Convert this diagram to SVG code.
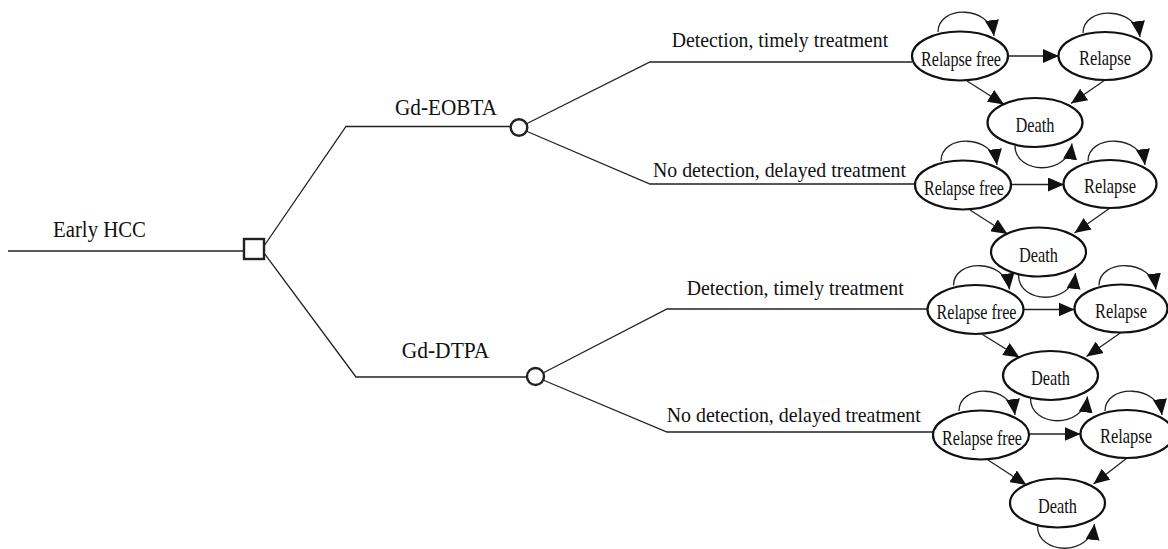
<svg xmlns="http://www.w3.org/2000/svg" width="1168" height="549" viewBox="0 0 1168 549">
<defs>
<style>
.ln{fill:none;stroke:#222;stroke-width:1.3}
.ar{fill:none;stroke:#222;stroke-width:1.3;marker-end:url(#ah)}
.st{fill:#fff;stroke:#111;stroke-width:2.2}
.dec{fill:#fff;stroke:#222;stroke-width:2.4}
.t{font-family:"Liberation Serif","Times New Roman",serif;fill:#111}
.lb{font-size:21.5px}
.lb22{font-size:23px}
.nt{font-size:21px;text-anchor:middle}
</style>
<marker id="ah" markerWidth="16" markerHeight="14" refX="16" refY="7" orient="auto" markerUnits="userSpaceOnUse">
<path d="M0,0 L16,7 L0,14 z" fill="#111"/>
</marker>
</defs>
<rect width="1168" height="549" fill="#fff"/>

<g id="connectors">
<path class="ln" d="M8,251 H244"/>
<path class="ln" d="M264,246 L346,126.5 H510.5"/>
<path class="ln" d="M264,253 L356,377 H527"/>
<path class="ln" d="M526,124 L650,62 H912"/>
<path class="ln" d="M526,131 L650,184 H915"/>
<path class="ln" d="M543,373 L667,309 H928"/>
<path class="ln" d="M543,380 L667,432 H933"/>

<path class="ar" d="M938,32 C938,5 990,5 994,36"/>
<path class="ar" d="M1083,33 C1083,6 1136,6 1140,37"/>
<path class="ar" d="M1008,56 L1059,56"/>
<path class="ar" d="M967,81 L1004,104.5"/>
<path class="ar" d="M1105,80 L1071,103.5"/>
<path class="ar" d="M1015,145.5 C1015,174.5 1068,176.5 1072,143.5"/>

<path class="ar" d="M941,161 C941,134 993,134 997,165"/>
<path class="ar" d="M1088,161 C1088,134 1141,134 1145,165"/>
<path class="ar" d="M1011,184.5 L1064,184.5"/>
<path class="ar" d="M970,210 L1007.5,234"/>
<path class="ar" d="M1110,208 L1074.5,233"/>
<path class="ar" d="M1018.5,275 C1018.5,304 1071.5,306 1075.5,273"/>

<path class="ar" d="M953.5,285.5 C953.5,258.5 1005.5,258.5 1009.5,289.5"/>
<path class="ar" d="M1099,285.5 C1099,258.5 1152,258.5 1156,289.5"/>
<path class="ar" d="M1023.5,309.5 L1074.5,309.5"/>
<path class="ar" d="M982.5,334.5 L1019.5,357.5"/>
<path class="ar" d="M1121,332.5 L1086.5,356.5"/>
<path class="ar" d="M1030.5,398.5 C1030.5,427.5 1083.5,429.5 1087.5,396.5"/>

<path class="ar" d="M959,411 C959,384 1011,384 1015,415"/>
<path class="ar" d="M1105,411 C1105,384 1158,384 1162,415"/>
<path class="ar" d="M1029,434 L1080.5,434"/>
<path class="ar" d="M988,460 L1026.5,485"/>
<path class="ar" d="M1127,458 L1093.5,484"/>
<path class="ar" d="M1037.5,526 C1037.5,555 1090.5,557 1094.5,524"/>
</g>

<g id="labels">
<text class="t lb22" x="53" y="236.7" textLength="93" lengthAdjust="spacingAndGlyphs">Early HCC</text>
<text class="t lb22" x="395" y="115" textLength="102" lengthAdjust="spacingAndGlyphs">Gd-EOBTA</text>
<text class="t lb22" x="401.7" y="358.3" textLength="87.6" lengthAdjust="spacingAndGlyphs">Gd-DTPA</text>
<text class="t lb" x="671.7" y="46.7" textLength="216.5" lengthAdjust="spacingAndGlyphs">Detection, timely treatment</text>
<text class="t lb" x="653" y="176.7" textLength="253" lengthAdjust="spacingAndGlyphs">No detection, delayed treatment</text>
<text class="t lb" x="686.7" y="295" textLength="217" lengthAdjust="spacingAndGlyphs">Detection, timely treatment</text>
<text class="t lb" x="666.7" y="421.7" textLength="254" lengthAdjust="spacingAndGlyphs">No detection, delayed treatment</text>
</g>

<g id="decision"><rect class="dec" x="244" y="239" width="20" height="20"/></g>
<g id="chance-eobta"><circle class="dec" cx="519" cy="127.5" r="8.3"/></g>
<g id="chance-dtpa"><circle class="dec" cx="535.5" cy="376.5" r="8.5"/></g>

<g id="c1-relapse-free"><ellipse class="st" cx="960" cy="56" rx="48" ry="24.5"/><text class="t nt" x="961" y="65.5" textLength="80" lengthAdjust="spacingAndGlyphs">Relapse free</text></g>
<g id="c1-relapse"><ellipse class="st" cx="1105" cy="56" rx="46.5" ry="24"/><text class="t nt" x="1105" y="65" textLength="52" lengthAdjust="spacingAndGlyphs">Relapse</text></g>
<g id="c1-death"><ellipse class="st" cx="1035" cy="122.5" rx="47.5" ry="24.5"/><text class="t nt" x="1035" y="132" textLength="39" lengthAdjust="spacingAndGlyphs">Death</text></g>

<g id="c2-relapse-free"><ellipse class="st" cx="963" cy="185" rx="48" ry="24.5"/><text class="t nt" x="964" y="194.5" textLength="80" lengthAdjust="spacingAndGlyphs">Relapse free</text></g>
<g id="c2-relapse"><ellipse class="st" cx="1110" cy="184" rx="46.5" ry="24"/><text class="t nt" x="1110" y="193" textLength="52" lengthAdjust="spacingAndGlyphs">Relapse</text></g>
<g id="c2-death"><ellipse class="st" cx="1038.5" cy="252" rx="47.5" ry="24.5"/><text class="t nt" x="1038.5" y="261.5" textLength="39" lengthAdjust="spacingAndGlyphs">Death</text></g>

<g id="c3-relapse-free"><ellipse class="st" cx="975.5" cy="309.5" rx="48" ry="24.5"/><text class="t nt" x="976.5" y="319" textLength="80" lengthAdjust="spacingAndGlyphs">Relapse free</text></g>
<g id="c3-relapse"><ellipse class="st" cx="1121" cy="308.5" rx="46.5" ry="24"/><text class="t nt" x="1121" y="317.5" textLength="52" lengthAdjust="spacingAndGlyphs">Relapse</text></g>
<g id="c3-death"><ellipse class="st" cx="1050.5" cy="375.5" rx="47.5" ry="24.5"/><text class="t nt" x="1050.5" y="385" textLength="39" lengthAdjust="spacingAndGlyphs">Death</text></g>

<g id="c4-relapse-free"><ellipse class="st" cx="981" cy="435" rx="48" ry="24.5"/><text class="t nt" x="982" y="444.5" textLength="80" lengthAdjust="spacingAndGlyphs">Relapse free</text></g>
<g id="c4-relapse"><ellipse class="st" cx="1127" cy="434" rx="46.5" ry="24"/><text class="t nt" x="1126" y="443" textLength="52" lengthAdjust="spacingAndGlyphs">Relapse</text></g>
<g id="c4-death"><ellipse class="st" cx="1057.5" cy="503" rx="47.5" ry="24.5"/><text class="t nt" x="1057.5" y="512.5" textLength="39" lengthAdjust="spacingAndGlyphs">Death</text></g>
</svg>
